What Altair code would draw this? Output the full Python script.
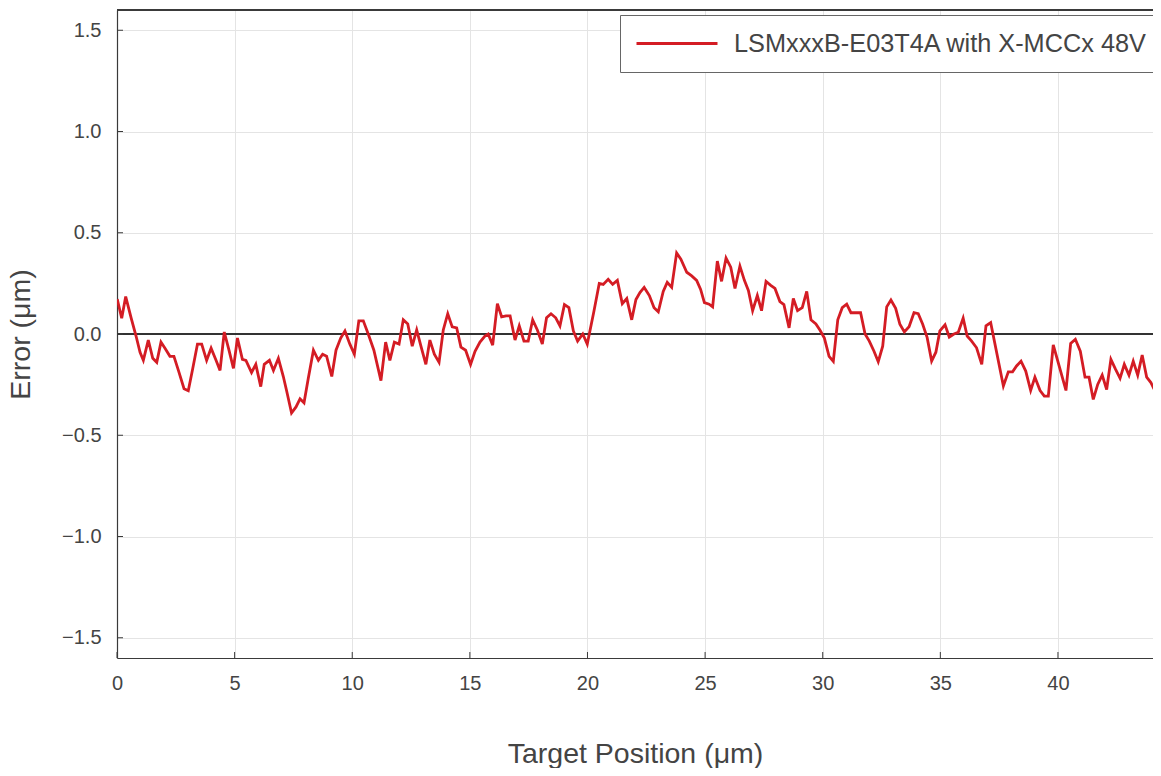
import altair as alt
import pandas as pd

# ---- data ----
positions = [
    0.01, 0.20, 0.37, 0.60, 0.81, 0.98, 1.12, 1.33, 1.52, 1.69, 1.87, 2.04, 2.25, 2.42, 2.61, 2.85,
    3.03, 3.22, 3.42, 3.60, 3.81, 4.00, 4.21, 4.38, 4.56, 4.76, 4.95, 5.12, 5.33, 5.48, 5.72, 5.90,
    6.11, 6.26, 6.48, 6.65, 6.86, 7.07, 7.21, 7.42, 7.61, 7.78, 7.95, 8.13, 8.35, 8.56, 8.74, 8.91,
    9.13, 9.31, 9.51, 9.69, 9.90, 10.09, 10.28, 10.47, 10.68, 10.92, 11.22, 11.42, 11.60, 11.79,
    11.99, 12.17, 12.36, 12.55, 12.74, 12.92, 13.13, 13.30, 13.49, 13.69, 13.87, 14.06, 14.25,
    14.44, 14.62, 14.82, 15.03, 15.22, 15.43, 15.64, 15.78, 15.97, 16.17, 16.35, 16.54, 16.71,
    16.92, 17.10, 17.30, 17.48, 17.67, 17.87, 18.08, 18.26, 18.45, 18.65, 18.83, 19.02, 19.21,
    19.40, 19.58, 19.80, 19.99, 20.27, 20.50, 20.67, 20.88, 21.07, 21.27, 21.48, 21.67, 21.88,
    22.06, 22.23, 22.41, 22.63, 22.83, 23.01, 23.22, 23.39, 23.58, 23.79, 23.97, 24.22, 24.43,
    24.64, 24.81, 24.97, 25.17, 25.32, 25.52, 25.70, 25.89, 26.09, 26.27, 26.48, 26.67, 26.84,
    27.02, 27.22, 27.40, 27.59, 27.79, 27.97, 28.18, 28.35, 28.57, 28.75, 28.93, 29.13, 29.32,
    29.50, 29.71, 29.88, 30.07, 30.27, 30.45, 30.64, 30.83, 31.02, 31.20, 31.40, 31.61, 31.80,
    31.98, 32.18, 32.36, 32.55, 32.72, 32.90, 33.10, 33.28, 33.47, 33.67, 33.88, 34.06, 34.25,
    34.44, 34.63, 34.81, 34.98, 35.20, 35.38, 35.58, 35.76, 35.97, 36.14, 36.33, 36.54, 36.76,
    36.94, 37.14, 37.68, 37.89, 38.07, 38.24, 38.43, 38.63, 38.84, 39.02, 39.24, 39.42, 39.59,
    39.80, 40.34, 40.54, 40.74, 40.95, 41.15, 41.32, 41.50, 41.69, 41.88, 42.07, 42.25, 42.45,
    42.64, 42.82, 43.02, 43.20, 43.39, 43.58, 43.77, 43.95, 44.15, 44.33, 44.52,
]
errors = [
    0.172, 0.078, 0.185, 0.08, -0.01, -0.09, -0.13, -0.03, -0.12, -0.14, -0.04, -0.07, -0.11, -0.11,
    -0.18, -0.27, -0.28, -0.17, -0.05, -0.05, -0.13, -0.07, -0.13, -0.18, 0.01, -0.08, -0.17, -0.02,
    -0.125, -0.13, -0.19, -0.15, -0.26, -0.15, -0.13, -0.18, -0.12, -0.21, -0.28, -0.39, -0.36,
    -0.32, -0.34, -0.22, -0.08, -0.13, -0.10, -0.11, -0.21, -0.08, -0.02, 0.015, -0.05, -0.10,
    0.065, 0.065, 0.0, -0.08, -0.23, -0.04, -0.13, -0.04, -0.05, 0.07, 0.05, -0.06, 0.02, -0.06,
    -0.15, -0.03, -0.10, -0.14, 0.02, 0.10, 0.035, 0.03, -0.065, -0.08, -0.15, -0.085, -0.04,
    -0.01, 0.0, -0.055, 0.15, 0.085, 0.09, 0.09, -0.03, 0.04, -0.035, -0.035, 0.07, 0.02, -0.05,
    0.08, 0.10, 0.08, 0.04, 0.145, 0.13, 0.015, -0.035, 0.0, -0.05, 0.11, 0.25, 0.245, 0.27,
    0.245, 0.265, 0.15, 0.175, 0.07, 0.17, 0.205, 0.23, 0.19, 0.13, 0.11, 0.21, 0.255, 0.23,
    0.40, 0.37, 0.305, 0.287, 0.265, 0.22, 0.155, 0.147, 0.134, 0.36, 0.26, 0.375, 0.33, 0.225,
    0.335, 0.265, 0.215, 0.115, 0.19, 0.115, 0.26, 0.24, 0.225, 0.16, 0.145, 0.03, 0.175, 0.115,
    0.13, 0.21, 0.07, 0.05, 0.02, -0.02, -0.11, -0.135, 0.07, 0.13, 0.147, 0.105, 0.105, 0.105,
    0.0, -0.035, -0.085, -0.137, -0.06, 0.134, 0.168, 0.127, 0.048, 0.01, 0.036, 0.105, 0.10,
    0.048, -0.018, -0.134, -0.09, 0.015, 0.045, -0.015, 0.0, 0.008, 0.078, -0.01, -0.035, -0.068,
    -0.15, 0.04, 0.056, -0.257, -0.187, -0.187, -0.158, -0.134, -0.183, -0.279, -0.213, -0.279,
    -0.307, -0.307, -0.054, -0.279, -0.047, -0.026, -0.085, -0.213, -0.213, -0.323, -0.249,
    -0.203, -0.274, -0.125, -0.175, -0.219, -0.15, -0.203, -0.134, -0.203, -0.104, -0.213,
    -0.24, -0.286, -0.262, -0.25,
]
series_name = "LSMxxxB-E03T4A with X-MCCx 48V"
x_ticks = [0, 5, 10, 15, 20, 25, 30, 35, 40]
y_ticks = [-1.5, -1.0, -0.5, 0.0, 0.5, 1.0, 1.5]
x_domain = [0, 44.04]
y_domain = [-1.6, 1.6]

X_TITLE = "Target Position (μm)"
Y_TITLE = "Error (μm)"

W, H = 1036, 648
FONT = "Liberation Sans"
TEXT = "#444444"
SPINE = "#3a3a3a"

df = pd.DataFrame({"pos": positions, "err": errors, "series": series_name})
xt = pd.DataFrame({"pos": x_ticks})
yt = pd.DataFrame({"err": y_ticks})

xscale = alt.Scale(domain=x_domain, nice=False, zero=False)
yscale = alt.Scale(domain=y_domain, nice=False, zero=False)

xaxis = alt.Axis(values=x_ticks, title=X_TITLE, format="d", labelPadding=15,
                 labelFlush=False, titlePadding=46, grid=True)
yaxis = alt.Axis(values=y_ticks, title=Y_TITLE, format=".1f", labelPadding=16,
                 labelFlush=False, titlePadding=26, grid=True)

line = alt.Chart(df).mark_line(strokeWidth=2.8, clip=True).encode(
    x=alt.X("pos:Q", scale=xscale, axis=xaxis, title=X_TITLE),
    y=alt.Y("err:Q", scale=yscale, axis=yaxis, title=Y_TITLE),
    color=alt.Color(
        "series:N",
        scale=alt.Scale(range=["#d41c24"]),
        legend=alt.Legend(
            title=None, orient="none", legendX=503, legendY=5,
            padding=15, strokeColor="#666666", fillColor="white",
            labelFontSize=25.3, labelColor=TEXT, labelFont=FONT, labelLimit=700,
            symbolType="stroke", symbolSize=6561, symbolStrokeWidth=3,
            clipHeight=27, labelOffset=15, cornerRadius=0,
        ),
    ),
)

zero = alt.Chart(df).mark_rule(color="#333333", strokeWidth=1).encode(y=alt.datum(0))

xtick_marks = alt.Chart(xt).mark_rule(color=SPINE, strokeWidth=1).encode(
    x=alt.X("pos:Q", title=X_TITLE), y=alt.value(H), y2=alt.value(H - 6)
)
ytick_marks = alt.Chart(yt).mark_rule(color=SPINE, strokeWidth=1).encode(
    y=alt.Y("err:Q", title=Y_TITLE), x=alt.value(0), x2=alt.value(6)
)
top_spine = alt.Chart(xt).mark_rule(color=SPINE, strokeWidth=1.2).encode(
    y=alt.value(0), x=alt.value(0), x2=alt.value(W)
)

chart = (
    alt.layer(zero, line, xtick_marks, ytick_marks, top_spine)
    .properties(
        width=W, height=H,
        autosize=alt.AutoSizeParams(type="none"),
        padding={"left": 109, "top": 2, "right": 0, "bottom": 110},
    )
    .configure(font=FONT)
    .configure_view(stroke=None)
    .configure_axis(
        gridColor="#e4e4e4", gridWidth=1,
        domainColor=SPINE, domainWidth=1.2,
        ticks=False,
        labelFont=FONT, labelFontSize=20, labelColor=TEXT,
        titleFont=FONT, titleFontSize=28.5, titleFontWeight="normal", titleColor=TEXT,
    )
)

chart.save("out.html", embed_options={"renderer": "svg", "actions": False})
